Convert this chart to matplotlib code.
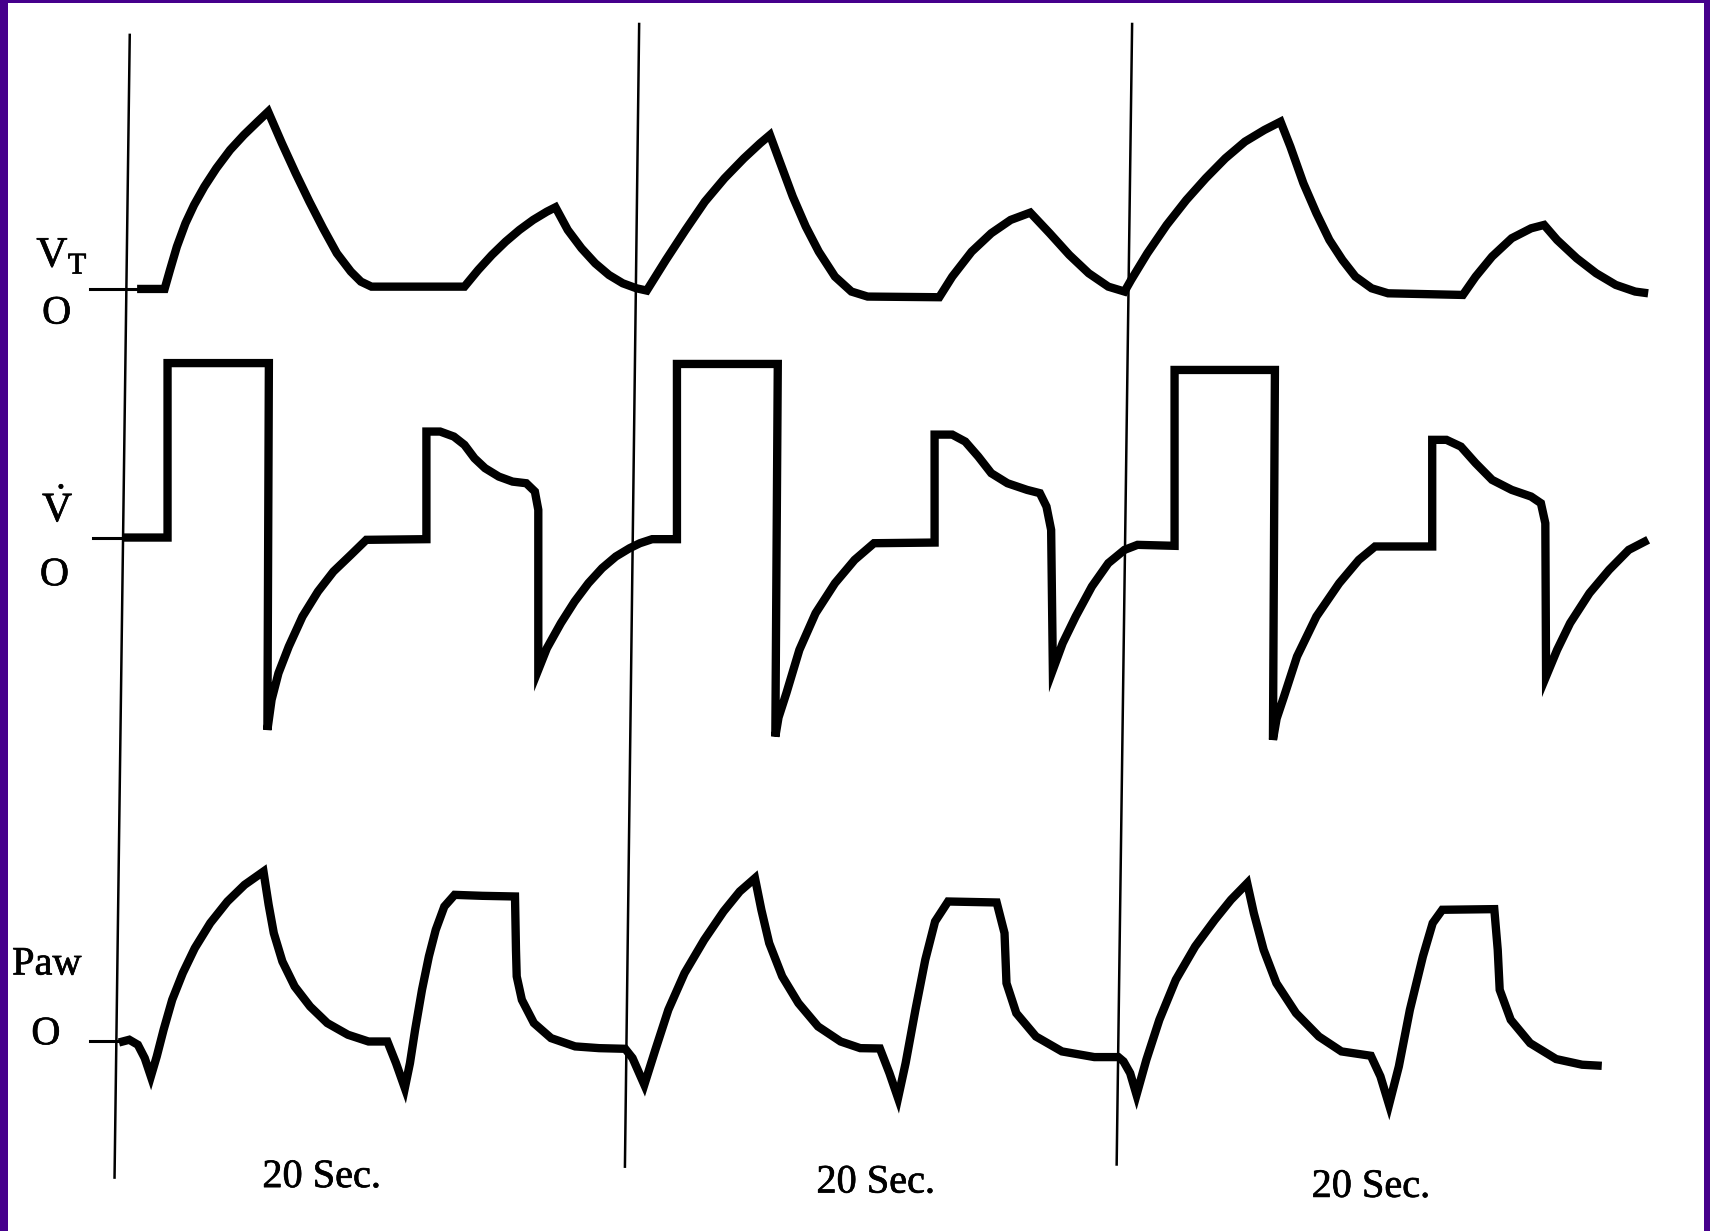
"""Ventilator waveforms: tidal volume, flow and airway pressure over three 20 s windows."""

import matplotlib.pyplot as plt
import matplotlib.patheffects as pe
from matplotlib.patches import Rectangle

plt.rcParams["font.family"] = ["Liberation Serif", "DejaVu Serif"]
plt.rcParams["mathtext.fontset"] = "custom"
plt.rcParams["mathtext.rm"] = "Liberation Serif"

# time in seconds, amplitude in arbitrary units (0 = baseline of each trace)
VT_T = [0.61, 1.73, 1.95, 2.23, 2.58, 2.93, 3.35, 3.84, 4.40, 4.96, 5.52, 5.95,
        6.51, 7.07, 7.63, 8.19, 8.75, 9.32, 9.73, 10.16,
        13.95, 14.51, 15.07, 15.63, 16.19, 16.75, 17.31, 17.66,
        18.16, 18.72, 19.28, 19.84, 20.40, 20.96, 21.38,
        22.16, 22.96, 23.75, 24.55, 25.34, 26.00, 26.40,
        26.80, 27.33, 27.86, 28.39, 29.05, 29.72, 30.38,
        33.30, 33.83, 34.62, 35.42, 36.21, 37.01,
        37.80, 38.60, 39.39, 40.19, 40.85,
        41.12, 41.78, 42.57, 43.37, 44.16, 44.96, 45.76, 46.55, 47.21,
        47.61, 48.14, 48.67, 49.20, 49.73, 50.26, 50.92, 51.59,
        54.64, 55.16, 55.83, 56.63, 57.42, 57.95,
        58.48, 59.28, 60.07, 60.87, 61.66, 62.19]
VT_V = [0.0, 0.0, 1.74, 3.88, 6.02, 7.70, 9.38, 11.07, 12.75, 14.12, 15.34, 16.26,
        13.36, 10.61, 8.01, 5.56, 3.27, 1.59, 0.67, 0.21,
        0.21, 1.74, 3.12, 4.34, 5.41, 6.33, 7.09, 7.49,
        5.41, 3.73, 2.35, 1.28, 0.52, 0.06, -0.15,
        2.66, 5.41, 8.01, 10.15, 11.98, 13.36, 14.12,
        11.68, 8.47, 5.72, 3.42, 1.13, -0.24, -0.70,
        -0.76, 1.13, 3.42, 5.11, 6.33, 7.00,
        5.11, 3.12, 1.44, 0.21, -0.24,
        0.83, 3.27, 5.87, 8.16, 10.15, 11.98, 13.51, 14.58, 15.34,
        13.05, 9.69, 6.94, 4.49, 2.66, 1.13, 0.06, -0.40,
        -0.55, 1.13, 2.97, 4.65, 5.56, 5.87,
        4.49, 2.81, 1.44, 0.37, -0.24, -0.40]

FLOW_T = [0.04, 1.85, 1.85, 5.98, 5.92, 6.09, 6.37, 6.79, 7.35, 7.98, 8.61, 9.32, 9.95,
          12.40, 12.40, 12.96, 13.52, 13.95, 14.36, 14.79, 15.35, 15.91, 16.47, 16.82,
          16.96, 16.96, 17.31, 17.88, 18.44, 19.00, 19.56, 20.12, 20.68, 21.10, 21.60,
          22.61, 22.61, 26.72, 26.62, 26.75, 27.07, 27.60, 28.26, 29.05, 29.85, 30.64,
          33.11, 33.11, 33.83, 34.36, 34.89, 35.42, 36.08, 36.88, 37.40, 37.67, 37.86,
          37.93, 38.33, 38.86, 39.52, 40.19, 40.85, 41.38,
          42.89, 42.89, 46.98, 46.90, 47.05, 47.35, 47.88, 48.67, 49.60, 50.40, 51.06,
          53.39, 53.39, 53.97, 54.56, 55.16, 55.83, 56.63, 57.42, 57.82, 58.00,
          58.03, 58.48, 59.01, 59.80, 60.60, 61.40, 62.19]
FLOW_V = [0.0, 0.0, 16.0, 16.0, -17.64, -14.88, -12.44, -10.00, -7.24, -4.95, -3.12, -1.59, -0.21,
          -0.15, 9.72, 9.72, 9.26, 8.50, 7.27, 6.36, 5.59, 5.13, 4.98, 4.22,
          2.54, -12.13, -10.15, -7.85, -5.87, -4.19, -2.81, -1.74, -0.98, -0.52, -0.15,
          -0.15, 15.92, 15.92, -18.25, -16.50, -14.27, -10.30, -6.94, -4.19, -2.05, -0.52,
          -0.46, 9.44, 9.44, 8.80, 7.43, 5.90, 4.98, 4.37, 4.07, 2.84, 0.70,
          -12.13, -9.69, -7.24, -4.49, -2.35, -1.13, -0.67,
          -0.76, 15.37, 15.37, -18.55, -16.60, -14.58, -10.91, -7.24, -4.19, -2.05, -0.82,
          -0.82, 8.96, 8.96, 8.34, 6.82, 5.29, 4.37, 3.76, 3.15, 1.31,
          -12.74, -10.30, -7.85, -5.10, -2.96, -1.13, -0.21]

PAW_T = [-0.13, 0.29, 0.64, 0.92, 1.17, 1.41, 1.69, 2.04, 2.47, 2.96, 3.59, 4.29, 4.99, 5.76,
         5.97, 6.18, 6.53, 7.03, 7.66, 8.36, 9.20, 10.04, 10.81,
         11.16, 11.52, 11.73, 11.94, 12.22, 12.50, 12.78, 13.13, 13.55, 14.68, 16.01,
         16.05, 16.08, 16.29, 16.78, 17.48, 18.46, 19.44, 20.50,
         20.80, 21.28, 21.73, 22.26, 22.92, 23.72, 24.51, 25.17, 25.79,
         26.05, 26.37, 26.90, 27.56, 28.36, 29.28, 30.08, 30.88,
         31.27, 31.62, 31.93, 32.33, 32.73, 33.13, 33.66, 35.64,
         35.96, 36.04, 36.44, 37.24, 38.30, 39.62, 40.60,
         40.81, 41.08, 41.34, 41.74, 42.27, 42.94, 43.73, 44.53, 45.19, 45.85,
         46.12, 46.52, 47.04, 47.84, 48.77, 49.69, 50.89,
         51.28, 51.63, 52.03, 52.48, 53.01, 53.41, 53.80, 55.92,
         56.06, 56.14, 56.59, 57.38, 58.44, 59.50, 60.30]
PAW_V = [-0.11, 0.14, -0.32, -1.54, -3.22, -1.39, 1.06, 3.81, 6.25, 8.54, 10.84, 12.82, 14.35, 15.57,
         12.52, 9.92, 7.32, 5.03, 3.19, 1.67, 0.60, -0.02, -0.02,
         -2.00, -4.29, -2.00, 1.06, 4.72, 7.78, 10.22, 12.36, 13.43, 13.34, 13.28,
         8.39, 5.95, 3.80, 1.67, 0.29, -0.47, -0.63, -0.69,
         -1.54, -3.99, -0.78, 2.89, 6.25, 9.30, 11.91, 13.74, 14.96,
         12.06, 9.00, 5.95, 3.50, 1.36, -0.02, -0.63, -0.66,
         -2.92, -5.21, -2.00, 2.89, 7.47, 10.99, 12.82, 12.73,
         9.92, 5.33, 2.58, 0.44, -0.93, -1.45, -1.45,
         -1.85, -2.92, -4.91, -1.70, 1.97, 5.64, 8.70, 11.14, 12.98, 14.50,
         11.75, 8.39, 5.33, 2.58, 0.44, -0.93, -1.33,
         -3.22, -5.82, -2.31, 2.89, 7.78, 10.84, 12.06, 12.12,
         8.39, 4.72, 1.97, -0.17, -1.63, -2.15, -2.25]

# zero-reference ticks at the left of each trace (start, end time)
ZERO_TICKS = {"vt": (-1.33, 0.61), "flow": (-1.20, 0.04), "paw": (-1.29, 0.29)}

# window markers: time at top and bottom of each (slightly skewed) scan line
MARK_T_TOP = [0.31, 21.07, 41.16]
MARK_T_BOT = [-0.31, 20.49, 40.53]
MARK_TOP = [109.7, 110.7, 110.7]
MARK_BOT = [4.9, 5.9, 6.1]

WINDOW_LABEL = "20 Sec."
WINDOW_LABEL_T = [8.13, 30.71, 50.89]
WINDOW_LABEL_Y = [4.9, 4.4, 4.0]

# layout: vertical placement of each trace's baseline
VT_ROW = 86.4
FLOW_ROW = 63.6
PAW_ROW = 17.4

INK = "black"
BORDER = "#46008c"
HEAVY = [pe.withStroke(linewidth=0.5, foreground=INK)]

fig = plt.figure(figsize=(17.10, 12.31), dpi=100)
fig.patch.set_facecolor("white")
ax = fig.add_axes([0, 0, 1, 1])
ax.set_xlim(-4.978, 64.711)
ax.set_ylim(0, 112.9)
ax.axis("off")

trace_kw = dict(color=INK, linewidth=6.0, solid_joinstyle="miter",
                solid_capstyle="butt", zorder=3)
ax.plot(VT_T, [v + VT_ROW for v in VT_V], **trace_kw)
ax.plot(FLOW_T, [v + FLOW_ROW for v in FLOW_V], **trace_kw)
ax.plot(PAW_T, [v + PAW_ROW for v in PAW_V], **trace_kw)

for key, row in (("vt", VT_ROW), ("flow", FLOW_ROW), ("paw", PAW_ROW)):
    t0, t1 = ZERO_TICKS[key]
    ax.plot([t0, t1], [row, row], color=INK, linewidth=2.2, zorder=2)

for tt, tb, yt, yb in zip(MARK_T_TOP, MARK_T_BOT, MARK_TOP, MARK_BOT):
    ax.plot([tt, tb], [yt, yb], color=INK, linewidth=1.8, zorder=2)

for t, y in zip(WINDOW_LABEL_T, WINDOW_LABEL_Y):
    ax.text(t, y, WINDOW_LABEL, ha="center", va="center", fontsize=29,
            color=INK, path_effects=HEAVY)

lab_kw = dict(ha="center", va="center", color=INK, path_effects=HEAVY)
ax.text(-2.45, VT_ROW + 3.0, r"$\mathrm{V}_{\mathrm{T}}$", fontsize=31, **lab_kw)
ax.text(-2.67, VT_ROW - 2.3, "O", fontsize=29, **lab_kw)
ax.text(-2.62, FLOW_ROW + 2.6, r"$\dot{\mathrm{V}}$", fontsize=30, **lab_kw)
ax.text(-2.76, FLOW_ROW - 3.5, "O", fontsize=29, **lab_kw)
ax.text(-3.07, PAW_ROW + 7.0, "Paw", fontsize=29, **lab_kw)
ax.text(-3.11, PAW_ROW + 0.6, "O", fontsize=29, **lab_kw)

# purple frame of the slide around the scanned figure
fw, fh = 1710, 1231
for x, y, w, h in ((0, 0, 8 / fw, 1), (0, 1 - 3 / fh, 1, 3 / fh),
                   (1 - 6 / fw, 0, 6 / fw, 1)):
    fig.add_artist(Rectangle((x, y), w, h, transform=fig.transFigure,
                             facecolor=BORDER, edgecolor="none", zorder=10))

fig.savefig("out.png", dpi=100, facecolor="white")
